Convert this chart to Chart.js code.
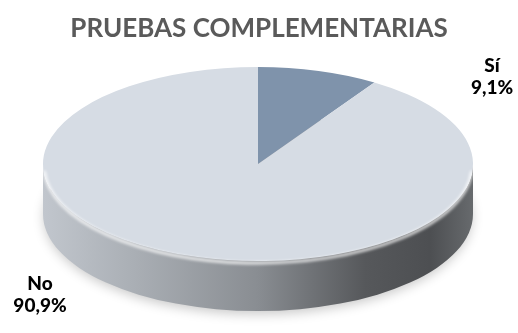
<!DOCTYPE html>
<html>
<head>
<meta charset="utf-8">
<script src="https://cdn.jsdelivr.net/npm/chart.js@4/dist/chart.umd.min.js"></script>
<style>
  html, body { margin: 0; padding: 0; background: #ffffff; }
  canvas { display: block; }
</style>
</head>
<body>
<canvas id="chart" width="518" height="333"></canvas>
<script>
// Categories and their share (%) of the total
const categories = ['Sí', 'No'];
const percentages = [9.1, 90.9];
const sliceColors = ['#7f93ab', '#d6dce4'];
const chartTitle = 'PRUEBAS COMPLEMENTARIAS';

// Geometry of the tilted disc (ellipse of the top face + thickness)
const DISC = { cx: 258, cy: 164, rx: 215, ry: 97, depth: 50 };

function hexToRgb(hex) {
  const n = parseInt(hex.slice(1), 16);
  return [(n >> 16) & 255, (n >> 8) & 255, n & 255];
}
function shade(hex, f) {
  const [r, g, b] = hexToRgb(hex);
  return `rgb(${Math.round(r * f)},${Math.round(g * f)},${Math.round(b * f)})`;
}
function fmt(v) {
  return v.toFixed(1).replace('.', ',') + '%';
}

// Draws the side wall and shadow, then squashes the flat pie into an ellipse
const disc3d = {
  id: 'disc3d',
  beforeDatasetsDraw(chart) {
    const ctx = chart.ctx;
    const meta = chart.getDatasetMeta(0);
    const { cx, cy, rx, ry, depth } = DISC;

    // soft shadow under the disc
    ctx.save();
    ctx.shadowColor = 'rgba(0,0,0,0.22)';
    ctx.shadowBlur = 12;
    ctx.shadowOffsetY = 4;
    ctx.fillStyle = '#8a8d92';
    ctx.beginPath();
    ctx.ellipse(cx, cy + depth - 1, rx - 1, ry, 0, 0, Math.PI * 2);
    ctx.fill();
    ctx.restore();

    // side wall: only the front half (canvas angles 0..PI) is visible
    meta.data.forEach((arc, i) => {
      const s = Math.max(arc.startAngle, 0);
      const e = Math.min(arc.endAngle, Math.PI);
      if (e <= s) return;
      const base = sliceColors[i];
      const g = ctx.createLinearGradient(cx - rx, 0, cx + rx, 0);
      g.addColorStop(0.00, shade(base, 0.90));
      g.addColorStop(0.20, shade(base, 0.80));
      g.addColorStop(0.50, shade(base, 0.64));
      g.addColorStop(0.75, shade(base, 0.40));
      g.addColorStop(0.90, shade(base, 0.36));
      g.addColorStop(1.00, shade(base, 0.48));
      ctx.save();
      ctx.fillStyle = g;
      ctx.beginPath();
      ctx.ellipse(cx, cy, rx, ry, 0, s, e, false);
      ctx.ellipse(cx, cy + depth, rx, ry, 0, e, s, true);
      ctx.closePath();
      ctx.fill();
      ctx.restore();
    });

    // map the library's circular pie onto the top ellipse
    const a = meta.data[0];
    const R = a.outerRadius;
    ctx.save();
    ctx.translate(cx, cy);
    ctx.scale(rx / R, ry / R);
    ctx.translate(-a.x, -a.y);
  },
  afterDatasetsDraw(chart) {
    const ctx = chart.ctx;
    ctx.restore();
    const { cx, cy, rx, ry } = DISC;
    // rounded rim highlight along the front edge of the top face
    ctx.save();
    ctx.filter = 'blur(1.5px)';
    ctx.strokeStyle = 'rgba(255,255,255,0.8)';
    ctx.lineWidth = 3;
    ctx.beginPath();
    ctx.ellipse(cx, cy + 2, rx - 1, ry, 0, 0.05, Math.PI - 0.05);
    ctx.stroke();
    ctx.restore();
  }
};

// Category name and percentage next to each slice
const sliceLabels = {
  id: 'sliceLabels',
  afterDraw(chart) {
    const ctx = chart.ctx;
    const { cx, cy, rx, ry, depth } = DISC;
    // anchor: right of the back edge for the small slice, lower-left for the big one
    const anchors = [
      { x: cx + rx + 19, y: cy - ry + 5 },
      { x: cx - rx - 3, y: cy + ry + depth - 21 }
    ];
    ctx.save();
    ctx.fillStyle = '#000000';
    ctx.font = '900 19px Lato';
    ctx.textAlign = 'center';
    ctx.textBaseline = 'alphabetic';
    categories.forEach((c, i) => {
      const p = anchors[i];
      ctx.fillText(c, p.x, p.y);
      ctx.fillText(fmt(percentages[i]), p.x, p.y + 22);
    });
    ctx.restore();
  }
};

new Chart(document.getElementById('chart'), {
  type: 'pie',
  data: {
    labels: categories,
    datasets: [{
      data: percentages,
      backgroundColor: sliceColors,
      borderWidth: 0
    }]
  },
  options: {
    responsive: false,
    devicePixelRatio: 1,
    animation: false,
    rotation: 0,
    layout: { padding: 0 },
    plugins: {
      legend: { display: false },
      tooltip: { enabled: false },
      title: {
        display: true,
        text: chartTitle,
        color: '#5a5a5a',
        font: { family: 'Lato', size: 26, weight: 'bold' },
        padding: { top: 13, bottom: 10 }
      }
    }
  },
  plugins: [disc3d, sliceLabels]
});
</script>
</body>
</html>
